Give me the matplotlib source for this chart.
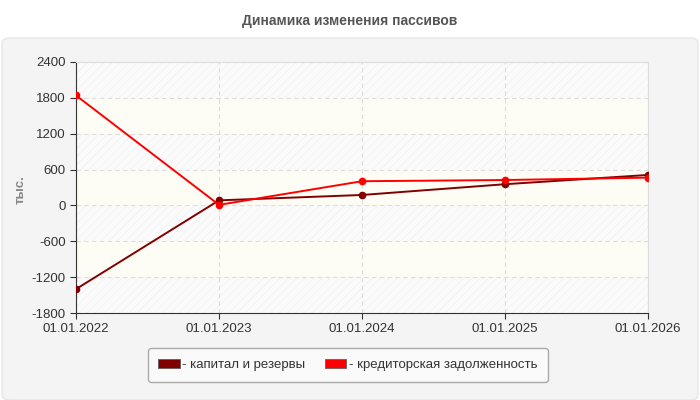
import matplotlib
matplotlib.use("Agg")
import matplotlib.pyplot as plt
from matplotlib.patches import FancyBboxPatch, Rectangle

# Chart data
dates = ["01.01.2022", "01.01.2023", "01.01.2024", "01.01.2025", "01.01.2026"]
capital = [-1400, 85, 175, 355, 510]
credit = [1840, 10, 405, 425, 465]
y_ticks = [-1800, -1200, -600, 0, 600, 1200, 1800, 2400]

plt.rcParams['font.family'] = ['Liberation Sans', 'DejaVu Sans']
plt.rcParams['hatch.linewidth'] = 0.5
plt.rcParams['axes.unicode_minus'] = False

fig = plt.figure(figsize=(7, 4), dpi=100)
fig.patch.set_facecolor("white")

# grey panel behind the chart
panel = FancyBboxPatch((0.003, 0.0), 0.994, 0.905, boxstyle="round,pad=0,rounding_size=0.012",
                       transform=fig.transFigure, facecolor="#f4f4f4", edgecolor="#e6e6e6",
                       lw=1, zorder=-10)
fig.add_artist(panel)

fig.text(0.5, 0.948, "Динамика изменения пассивов", ha="center", va="center",
         fontsize=10, fontweight="bold", color="#555555")

ax = fig.add_axes([0.1086, 0.2175, 0.8171, 0.6275])
ax.set_facecolor("#fdfdf8")
x = list(range(len(dates)))

# alternating bands, hatched ones light grey
for i in range(len(y_ticks) - 1):
    lo, hi = y_ticks[i], y_ticks[i + 1]
    if i % 2 == 0:
        ax.add_patch(Rectangle((0, lo), len(dates) - 1, hi - lo, facecolor="#fbfbfb",
                               edgecolor="#f0f0f0", hatch="////", lw=0, zorder=0))
    else:
        ax.add_patch(Rectangle((0, lo), len(dates) - 1, hi - lo, facecolor="#fdfdf6",
                               lw=0, zorder=0))

ax.plot(x, capital, color="#800000", lw=1.4, marker="o", ms=4.5, zorder=3)
ax.plot(x, credit, color="#ff0000", lw=1.4, marker="o", ms=4.5, zorder=3)

ax.set_xlim(0, len(dates) - 1)
ax.set_ylim(-1800, 2400)
ax.set_xticks(x)
ax.set_xticklabels(dates)
ax.set_yticks(y_ticks)
ax.tick_params(labelsize=9.5, colors="#333333", length=4, color="#333333")
ax.grid(True, color="#dddddd", linestyle=(0, (4, 3)), lw=0.8)
ax.set_axisbelow(True)
for s in ["top", "right"]:
    ax.spines[s].set_color("#dddddd")
for s in ["left", "bottom"]:
    ax.spines[s].set_color("#333333")

fig.text(0.03, 0.525, "тыс.", rotation=90, ha="center", va="center",
         fontsize=9.5, fontweight="bold", color="#888888")

# legend
handles = [Rectangle((0, 0), 1, 1, facecolor="#800000", edgecolor="#555555", lw=0.5),
           Rectangle((0, 0), 1, 1, facecolor="#ff0000", edgecolor="#555555", lw=0.5)]
leg = fig.legend(handles, ["- капитал и резервы", "- кредиторская задолженность"],
                 loc="center", bbox_to_anchor=(0.497, 0.0875), ncol=2, fontsize=9.5,
                 frameon=True, fancybox=True, edgecolor="#aaaaaa", facecolor="#fafafa",
                 handlelength=1.6, handleheight=0.6, handletextpad=0.2, columnspacing=1.5,
                 borderpad=0.8)
leg.get_frame().set_alpha(1)
for t in leg.get_texts():
    t.set_color("#333333")

fig.savefig("out.png", dpi=100)
